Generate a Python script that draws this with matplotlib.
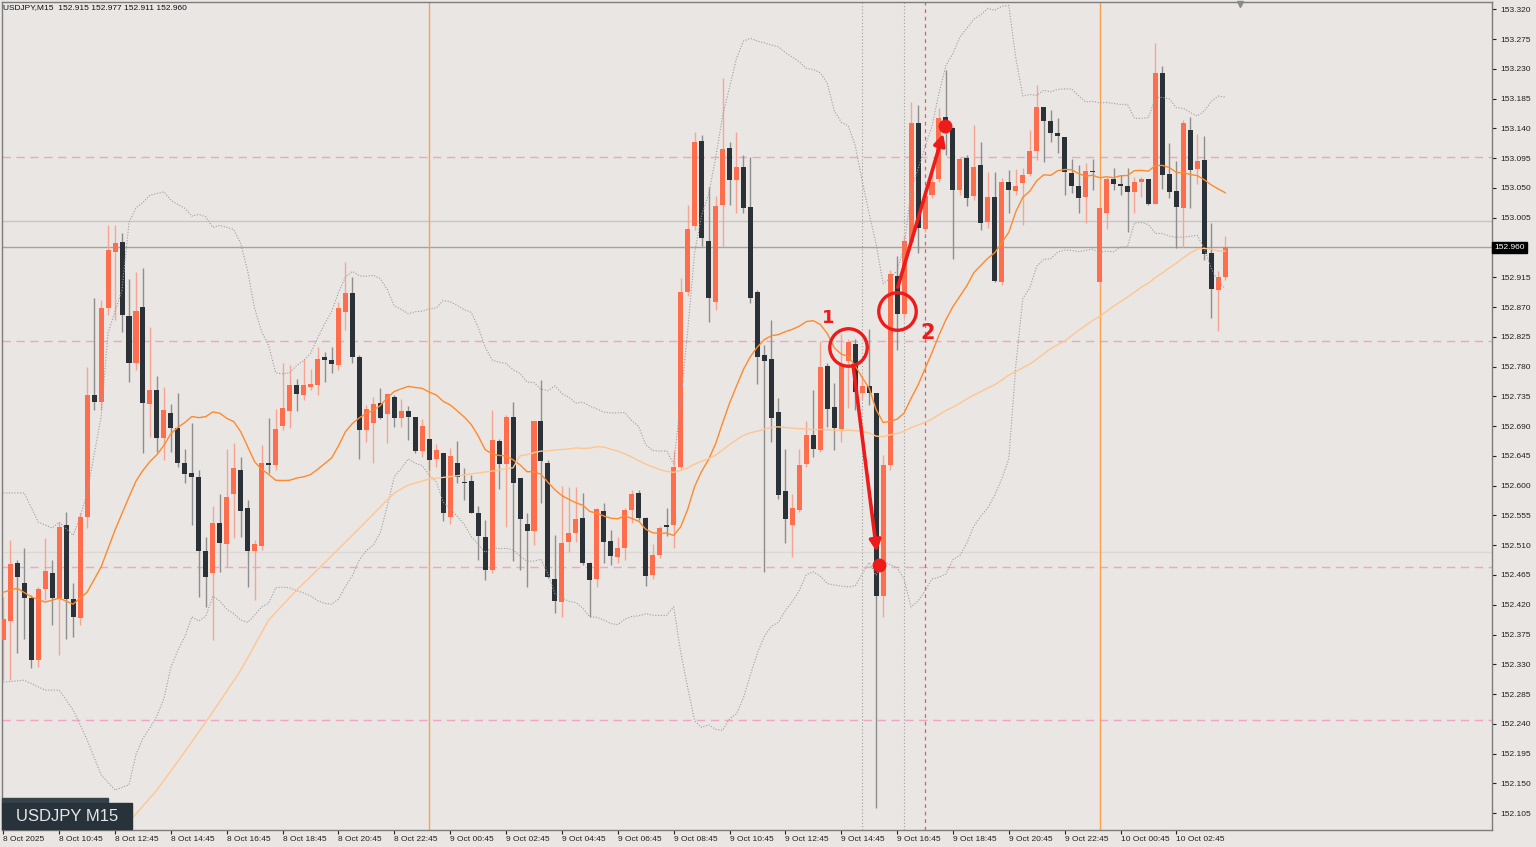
import numpy as np
import pandas as pd
import matplotlib
matplotlib.use("Agg")
import matplotlib.pyplot as plt

# USDJPY M15 candles, 8 Oct 2025 08:45 -> 10 Oct 2025 02:30
opens = [
    152.367, 152.396, 152.483, 152.453, 152.430, 152.337, 152.444, 152.468, 152.430, 152.541,
    152.429, 152.400, 152.553, 152.737, 152.726, 152.869, 152.953, 152.968, 152.856, 152.785,
    152.870, 152.723, 152.745, 152.672, 152.710, 152.687, 152.634, 152.619, 152.613, 152.501,
    152.468, 152.544, 152.512, 152.587, 152.624, 152.566, 152.501, 152.509, 152.634, 152.631,
    152.690, 152.713, 152.752, 152.737, 152.749, 152.752, 152.794, 152.790, 152.782, 152.862,
    152.891, 152.794, 152.684, 152.695, 152.725, 152.708, 152.734, 152.702, 152.713, 152.704,
    152.652, 152.671, 152.640, 152.649, 152.553, 152.634, 152.606, 152.607, 152.559, 152.522,
    152.473, 152.668, 152.633, 152.704, 152.612, 152.542, 152.532, 152.698, 152.634, 152.459,
    152.424, 152.515, 152.528, 152.551, 152.483, 152.459, 152.562, 152.516, 152.492, 152.506,
    152.563, 152.589, 152.551, 152.465, 152.495, 152.541, 152.541, 152.628, 152.893, 152.992,
    153.121, 152.970, 152.878, 153.024, 153.110, 153.062, 153.082, 153.021, 152.893, 152.797,
    152.791, 152.711, 152.592, 152.541, 152.563, 152.633, 152.677, 152.654, 152.781, 152.719,
    152.686, 152.788, 152.814, 152.740, 152.751, 152.740, 152.433, 152.631, 152.917, 152.859,
    152.968, 153.148, 152.988, 153.039, 153.063, 153.157, 153.141, 153.047, 153.095, 153.038,
    153.085, 152.999, 153.036, 152.908, 153.059, 153.045, 153.057, 153.071, 153.106, 153.172,
    153.151, 153.133, 153.127, 153.073, 153.053, 153.036, 153.076, 152.908, 153.012, 153.063,
    153.056, 153.053, 153.044, 153.059, 153.063, 153.026, 153.224, 153.071, 153.045, 153.020,
    153.138, 153.079, 153.092, 152.952, 152.896, 152.915]
highs = [
    152.432, 152.518, 152.488, 152.506, 152.435, 152.447, 152.521, 152.488, 152.545, 152.560,
    152.453, 152.559, 152.779, 152.884, 152.881, 152.994, 152.994, 152.982, 152.912, 152.923,
    152.929, 152.840, 152.766, 152.749, 152.723, 152.740, 152.655, 152.695, 152.624, 152.522,
    152.569, 152.587, 152.655, 152.664, 152.643, 152.578, 152.518, 152.661, 152.702, 152.716,
    152.785, 152.782, 152.761, 152.791, 152.776, 152.810, 152.802, 152.810, 152.878, 152.938,
    152.915, 152.797, 152.722, 152.734, 152.748, 152.740, 152.737, 152.731, 152.720, 152.704,
    152.701, 152.671, 152.663, 152.649, 152.657, 152.668, 152.627, 152.616, 152.569, 152.548,
    152.714, 152.671, 152.707, 152.726, 152.612, 152.559, 152.698, 152.760, 152.639, 152.525,
    152.599, 152.598, 152.598, 152.589, 152.485, 152.566, 152.574, 152.533, 152.522, 152.566,
    152.593, 152.593, 152.553, 152.512, 152.539, 152.566, 152.652, 152.914, 153.024, 153.135,
    153.130, 153.051, 153.038, 153.216, 153.119, 153.135, 153.100, 153.097, 152.896, 152.813,
    152.850, 152.733, 152.655, 152.587, 152.655, 152.698, 152.745, 152.819, 152.785, 152.755,
    152.829, 152.822, 152.822, 152.767, 152.837, 152.740, 152.646, 152.926, 152.947, 152.977,
    153.180, 153.175, 153.051, 153.077, 153.171, 153.228, 153.142, 153.097, 153.100, 153.145,
    153.119, 153.074, 153.074, 153.065, 153.077, 153.079, 153.080, 153.137, 153.206, 153.172,
    153.168, 153.156, 153.127, 153.094, 153.085, 153.088, 153.094, 153.020, 153.066, 153.080,
    153.069, 153.080, 153.066, 153.066, 153.063, 153.269, 153.234, 153.118, 153.091, 153.153,
    153.157, 153.131, 153.128, 152.997, 152.924, 152.977]
lows = [
    152.306, 152.306, 152.347, 152.368, 152.324, 152.326, 152.427, 152.389, 152.344, 152.368,
    152.371, 152.389, 152.536, 152.714, 152.714, 152.858, 152.850, 152.832, 152.757, 152.775,
    152.649, 152.674, 152.651, 152.639, 152.651, 152.628, 152.604, 152.541, 152.432, 152.417,
    152.367, 152.470, 152.477, 152.521, 152.522, 152.447, 152.427, 152.503, 152.619, 152.624,
    152.684, 152.687, 152.713, 152.729, 152.745, 152.737, 152.757, 152.770, 152.775, 152.835,
    152.785, 152.640, 152.666, 152.634, 152.701, 152.664, 152.689, 152.689, 152.669, 152.649,
    152.643, 152.624, 152.628, 152.547, 152.542, 152.604, 152.578, 152.559, 152.488, 152.457,
    152.468, 152.595, 152.538, 152.486, 152.473, 152.447, 152.510, 152.574, 152.461, 152.408,
    152.402, 152.500, 152.515, 152.480, 152.402, 152.447, 152.483, 152.480, 152.483, 152.488,
    152.544, 152.548, 152.448, 152.459, 152.491, 152.524, 152.506, 152.624, 152.887, 152.986,
    152.962, 152.847, 152.866, 152.962, 153.024, 153.012, 153.012, 152.876, 152.754, 152.470,
    152.666, 152.580, 152.513, 152.492, 152.560, 152.628, 152.643, 152.651, 152.689, 152.654,
    152.666, 152.717, 152.714, 152.729, 152.722, 152.113, 152.402, 152.624, 152.805, 152.853,
    152.964, 152.952, 152.983, 153.035, 153.059, 153.100, 152.943, 153.039, 153.023, 153.032,
    152.986, 152.989, 152.908, 152.903, 153.012, 153.039, 152.994, 153.068, 153.092, 153.089,
    153.119, 153.103, 153.039, 153.042, 153.012, 152.997, 153.047, 152.903, 152.988, 153.047,
    153.039, 152.983, 153.012, 153.036, 153.024, 153.026, 153.048, 153.035, 152.959, 152.961,
    153.020, 153.056, 152.941, 152.853, 152.834, 152.911]
closes = [
    152.399, 152.482, 152.462, 152.430, 152.337, 152.444, 152.471, 152.430, 152.538, 152.429,
    152.402, 152.553, 152.737, 152.726, 152.869, 152.956, 152.967, 152.858, 152.785, 152.864,
    152.725, 152.745, 152.672, 152.714, 152.687, 152.634, 152.618, 152.613, 152.501, 152.462,
    152.544, 152.513, 152.583, 152.627, 152.562, 152.501, 152.512, 152.634, 152.631, 152.686,
    152.717, 152.752, 152.739, 152.752, 152.754, 152.791, 152.790, 152.784, 152.869, 152.891,
    152.794, 152.684, 152.716, 152.723, 152.702, 152.739, 152.702, 152.713, 152.704, 152.652,
    152.690, 152.639, 152.654, 152.559, 152.645, 152.613, 152.604, 152.559, 152.524, 152.473,
    152.669, 152.633, 152.704, 152.604, 152.550, 152.532, 152.698, 152.637, 152.462, 152.426,
    152.513, 152.528, 152.550, 152.483, 152.457, 152.565, 152.515, 152.494, 152.506, 152.563,
    152.587, 152.551, 152.463, 152.495, 152.536, 152.538, 152.628, 152.893, 152.988, 153.119,
    152.974, 152.884, 153.023, 153.109, 153.062, 153.082, 153.020, 152.884, 152.794, 152.788,
    152.702, 152.586, 152.550, 152.566, 152.631, 152.677, 152.655, 152.779, 152.716, 152.687,
    152.781, 152.817, 152.742, 152.751, 152.740, 152.433, 152.631, 152.920, 152.859, 152.970,
    153.148, 152.989, 153.038, 153.059, 153.156, 153.150, 153.047, 153.094, 153.035, 153.082,
    152.997, 153.036, 152.909, 153.059, 153.047, 153.053, 153.069, 153.106, 153.172, 153.151,
    153.133, 153.128, 153.074, 153.053, 153.035, 153.076, 153.074, 153.020, 153.063, 153.056,
    153.053, 153.044, 153.059, 153.063, 153.026, 153.224, 153.069, 153.044, 153.021, 153.148,
    153.077, 153.091, 152.950, 152.897, 152.915, 152.960]

# indicator values before the visible window has enough bars
ma20_head_bars = [0, 2, 4, 6, 8, 10, 12, 14, 16, 18]
ma20_head = [152.439, 152.445, 152.432, 152.424, 152.430, 152.421, 152.439, 152.477, 152.533, 152.583]
bbup_head_bars = [0, 3, 5, 7, 8, 10, 11, 12, 14, 15, 17, 18]
bbup_head = [152.589, 152.589, 152.545, 152.536, 152.545, 152.525, 152.553, 152.589, 152.704, 152.831, 152.896, 152.998]
bblo_head_bars = [0, 3, 6, 8, 10, 12, 14, 16, 18]
bblo_head = [152.303, 152.306, 152.291, 152.291, 152.261, 152.216, 152.163, 152.140, 152.148]
ma75_head_bars = [18, 22, 26, 30, 34, 38, 42, 45, 50, 54, 56, 58, 61, 65, 70, 73]
ma75_head = [152.092, 152.140, 152.198, 152.258, 152.321, 152.397, 152.442, 152.473, 152.525, 152.568,
             152.589, 152.601, 152.610, 152.615, 152.622, 152.627]

# horizontal / vertical objects on the chart
pink_levels = [153.097, 152.819, 152.477, 152.246]
round_levels = [153.000, 152.500]
bid = 152.960
day_lines = ["2025-10-09 00:00", "2025-10-10 00:00"]
dotted_vlines = ["2025-10-09 15:30", "2025-10-09 17:00"]
red_vline = "2025-10-09 17:45"

# hand drawn marks (bar, price)
circles = [(121, 152.810), (128, 152.864)]
circle_tags = [("1", 118.1, 152.853), ("2", 132.4, 152.830)]
arrows = [((121.7, 152.782), (125.1, 152.500)), ((128.1, 152.900), (134.6, 153.132))]
dots = [(125.4, 152.480), (134.9, 153.144)]

o = np.array(opens); h = np.array(highs); l = np.array(lows); c = np.array(closes)
n = len(c)
times = pd.date_range("2025-10-08 08:45", periods=n, freq="15min")
x = np.arange(n)

cl = pd.Series(c)
ma20 = cl.rolling(20).mean()
sd20 = cl.rolling(20).std(ddof=0)
ma75 = cl.rolling(75).mean()

bg = "#EAE6E3"
up_col, dn_col = "#FF6E4C", "#2A3137"
red = "#EE1B1B"

fig = plt.figure(figsize=(15.36, 8.47), dpi=100, facecolor=bg)
ax = fig.add_axes([2 / 1536, 17 / 847, 1490 / 1536, 828 / 847])
ax.set_facecolor(bg)
ax.set_xlim(-0.19, 213.2)
ax.set_ylim(152.0796, 153.331)

def bar_of(t):
    return (pd.Timestamp(t) - times[0]) / pd.Timedelta("15min")

for lv in pink_levels:
    ax.axhline(lv, color="#EFA6C4", lw=1, ls=(0, (6, 4)), zorder=1)
ax.axhline(round_levels[0], color="#C9C5C1", lw=1, zorder=1)
ax.axhline(round_levels[1], color="#DCD8D4", lw=1, zorder=1)
ax.axhline(bid, color="#A3A3A3", lw=1, zorder=1)
for t in day_lines:
    ax.axvline(bar_of(t), color="#F6A24E", lw=1, zorder=1)
for t in dotted_vlines:
    ax.axvline(bar_of(t), color="#9C9C9C", lw=0.8, ls=(0, (1, 2)), zorder=1)
ax.axvline(bar_of(red_vline), color="#E45A6A", lw=0.9, ls=(0, (3, 3)), zorder=1)

# candles
up = c >= o
ax.vlines(x[up], l[up], h[up], color="#F6A592", lw=1, zorder=2)
ax.vlines(x[~up], l[~up], h[~up], color="#8E8E8E", lw=1, zorder=2)
bottom = np.minimum(o, c)
height = np.maximum(np.abs(c - o), 0.0016)
ax.bar(x, height, bottom=bottom, width=0.72, color=np.where(up, up_col, dn_col),
       linewidth=0, zorder=3)

# indicators
ma20_x = np.concatenate([ma20_head_bars, x[19:]])
ma20_y = np.concatenate([ma20_head, ma20[19:]])
ax.plot(ma20_x, ma20_y, color="#FF8A2C", lw=1.0, zorder=4)
ax.plot(np.concatenate([bbup_head_bars, x[19:]]),
        np.concatenate([bbup_head, (ma20 + 2 * sd20)[19:]]),
        color="#9E9CA4", lw=0.8, ls=(0, (1, 1.5)), zorder=4)
ax.plot(np.concatenate([bblo_head_bars, x[19:]]),
        np.concatenate([bblo_head, (ma20 - 2 * sd20)[19:]]),
        color="#9E9CA4", lw=0.8, ls=(0, (1, 1.5)), zorder=4)
ax.plot(np.concatenate([ma75_head_bars, x[74:]]),
        np.concatenate([ma75_head, ma75[74:]]),
        color="#FFC690", lw=1.0, zorder=4)

# annotations
for bx, py in circles:
    ax.plot(bx, py, "o", ms=27, mfc="none", mec=red, mew=2.4, zorder=6)
for txt, bx, py in circle_tags:
    ax.text(bx, py, txt, color=red, fontsize=13 if txt == "1" else 15,
            fontweight="bold", ha="center", va="center", zorder=6)
for (x0, y0), (x1, y1) in arrows:
    ax.annotate("", xy=(x1, y1), xytext=(x0, y0), zorder=6,
                arrowprops=dict(arrowstyle="-|>", color=red, lw=2.6, mutation_scale=17,
                                shrinkA=0, shrinkB=0))
for bx, py in dots:
    ax.plot(bx, py, "o", ms=9, color=red, zorder=7)

# price axis (the bid box stands in for the 152.960 tick label)
ax.yaxis.tick_right()
yt = np.round(np.arange(152.105, 153.3201, 0.045), 3)
ax.set_yticks(yt)
ax.set_yticklabels(["" if abs(v - bid) < 1e-6 else f"{v:.3f}" for v in yt])
ax.tick_params(axis="y", labelsize=6, length=3, pad=3, colors="#222222", width=0.8)
for lab in ax.get_yticklabels():
    lab.set_fontfamily("Liberation Sans")
ax.text(1.0015, bid, f"{bid:.3f}", transform=ax.get_yaxis_transform(), fontsize=6,
        family="Liberation Sans", color="white", va="center", ha="left",
        bbox=dict(boxstyle="square,pad=0.25", fc="black", ec="black"), zorder=10, clip_on=False)

# time axis
xt = list(range(0, n, 8))
xl = ["8 Oct 2025"] + [f"{times[i].day} {times[i]:%b %H:%M}" for i in xt[1:]]
ax.set_xticks(xt)
ax.set_xticklabels(xl, ha="left")
ax.tick_params(axis="x", labelsize=6, length=3, pad=1.5, colors="#222222", width=0.8)
for lab in ax.get_xticklabels():
    lab.set_fontfamily("Liberation Sans")

for sp in ax.spines.values():
    sp.set_color("#7C7C7C")
    sp.set_linewidth(1)

fig.text(3 / 1536, 1 - 8 / 847, "USDJPY,M15  152.915 152.977 152.911 152.960",
         fontsize=6, family="Liberation Sans", color="#111111", va="center")
fig.patches.append(plt.Rectangle((2 / 1536, 1 - 803 / 847), 106 / 1536, 5 / 847,
                                 transform=fig.transFigure, color="#36424A", zorder=5))
fig.patches.append(plt.Rectangle((2 / 1536, 1 - 829 / 847), 130 / 1536, 26 / 847,
                                 transform=fig.transFigure, color="#28323A", zorder=5))
fig.text(67 / 1536, 1 - 816 / 847, "USDJPY M15", fontsize=12, family="Liberation Sans",
         color="#E6E6E6", ha="center", va="center", zorder=6)
fig.lines.append(plt.Line2D([1240 / 1536], [1 - 4 / 847], marker="v", ms=5, color="#8A8A8A",
                            transform=fig.transFigure))

fig.savefig("out.png", dpi=100, facecolor=bg)
